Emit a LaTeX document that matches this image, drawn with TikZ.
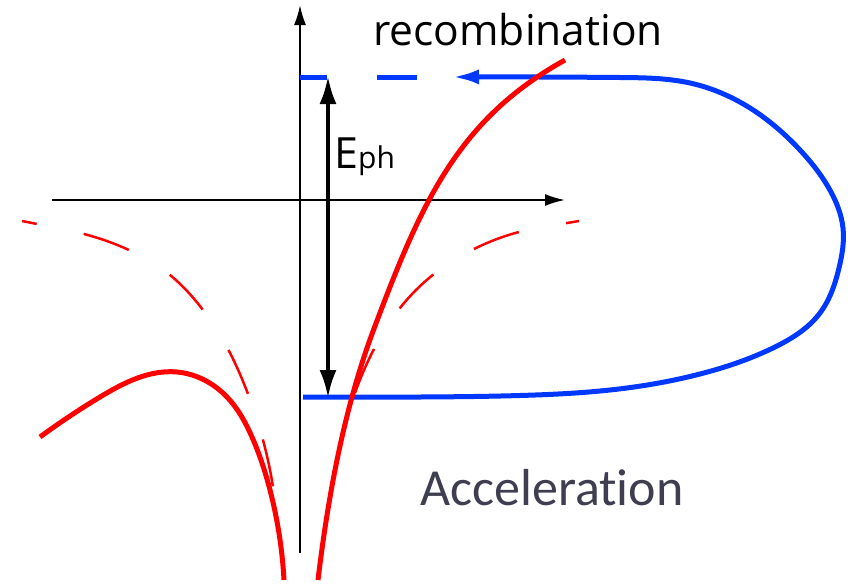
\documentclass[tikz,border=0pt]{standalone}
\usepackage{fontspec}
\setmainfont{Open Sans}
\newfontfamily\carlito[Ligatures=NoCommon]{Carlito}
\usetikzlibrary{arrows.meta,hobby}
\definecolor{myred}{RGB}{255,0,0}
\definecolor{myblue}{RGB}{0,56,255}
\definecolor{slate}{RGB}{62,62,80}
\begin{document}
\begin{tikzpicture}[x=1pt,y=-1pt,
  axis/.style={black,line width=2pt,-{Latex[length=20pt,width=12pt]}},
  redsolid/.style={myred,line width=5pt,use Hobby shortcut},
  reddash/.style={myred,line width=2.5pt,dash pattern=on 48pt off 48pt,use Hobby shortcut},
  blueline/.style={myblue,line width=5pt},
  epharrow/.style={black,line width=4pt,{Latex[length=28pt,width=17pt]}-{Latex[length=28pt,width=17pt]}},
  label/.style={inner sep=0pt,anchor=base west}]
\useasboundingbox (0,0) rectangle (854,584);
% axes
\coordinate (yb) at (300,553);
\coordinate (yt) at (300,5);
\coordinate (xl) at (52,200);
\coordinate (xr) at (565,200);
\draw[axis] (yb) -- (yt);
\draw[axis] (xl) -- (xr);
% blue trajectory
\coordinate (bstart) at (303,397);
\coordinate (btip) at (452,77);
\coordinate (dl) at (300,77);
\coordinate (dr) at (417,77);
\draw[blueline,line cap=butt,dash pattern=on 27pt off 50pt on 40pt off 100pt] (dl) -- (dr);
\draw[blueline,use Hobby shortcut,-{Latex[length=27pt,width=15pt]}]
 (bstart) .. (420,397) .. (520,395.5) .. (610,390) .. (700,374) .. (775,347) .. (820,313)
 .. (839,268) .. (843,228) .. (831,192) .. (800,150) .. (750,108) .. (690,83) .. (620,77.5) .. (540,77) .. (btip);
% red dashed (unperturbed potential)
\draw[reddash,dash phase=33pt]
 (22,221) .. (37,224) .. (84,234) .. (129,250) .. (170,275) .. (203,310) .. (229,351) .. (248,394) .. (263,440) .. (273,487);
\draw[reddash]
 (355,393) .. (374,349) .. (400,308) .. (434,274) .. (474,249) .. (519,232) .. (567,223) .. (579,221);
% red solid (field-dressed potential)
\draw[redsolid]
 (40,437) .. (100,397) .. (177,372) .. (227,397) .. (252,437) .. (270,490) .. (284,580);
\coordinate (rb) at (318,580);
\coordinate (rm) at (372,334);
\coordinate (rt) at (565,60);
\draw[myred,line width=5pt] (rb) .. controls (327.6,500) and (343,413) .. (rm)
  .. controls (421,203) and (457,120) .. (rt);
% photon energy arrow
\coordinate (eb) at (328,398);
\coordinate (et) at (328,76);
\draw[epharrow] (eb) -- (et);
% labels
\node[label] (eph) at (334,168) {\fontsize{43}{50}\selectfont E\fontsize{30}{36}\selectfont ph};
\node[label] (recomb) at (373,45) {\fontsize{42.5}{50}\selectfont recombination};
\node[label,text=slate] (accel) at (420,505) {\carlito\fontsize{52}{60}\selectfont Acceleration};
\end{tikzpicture}
\end{document}
